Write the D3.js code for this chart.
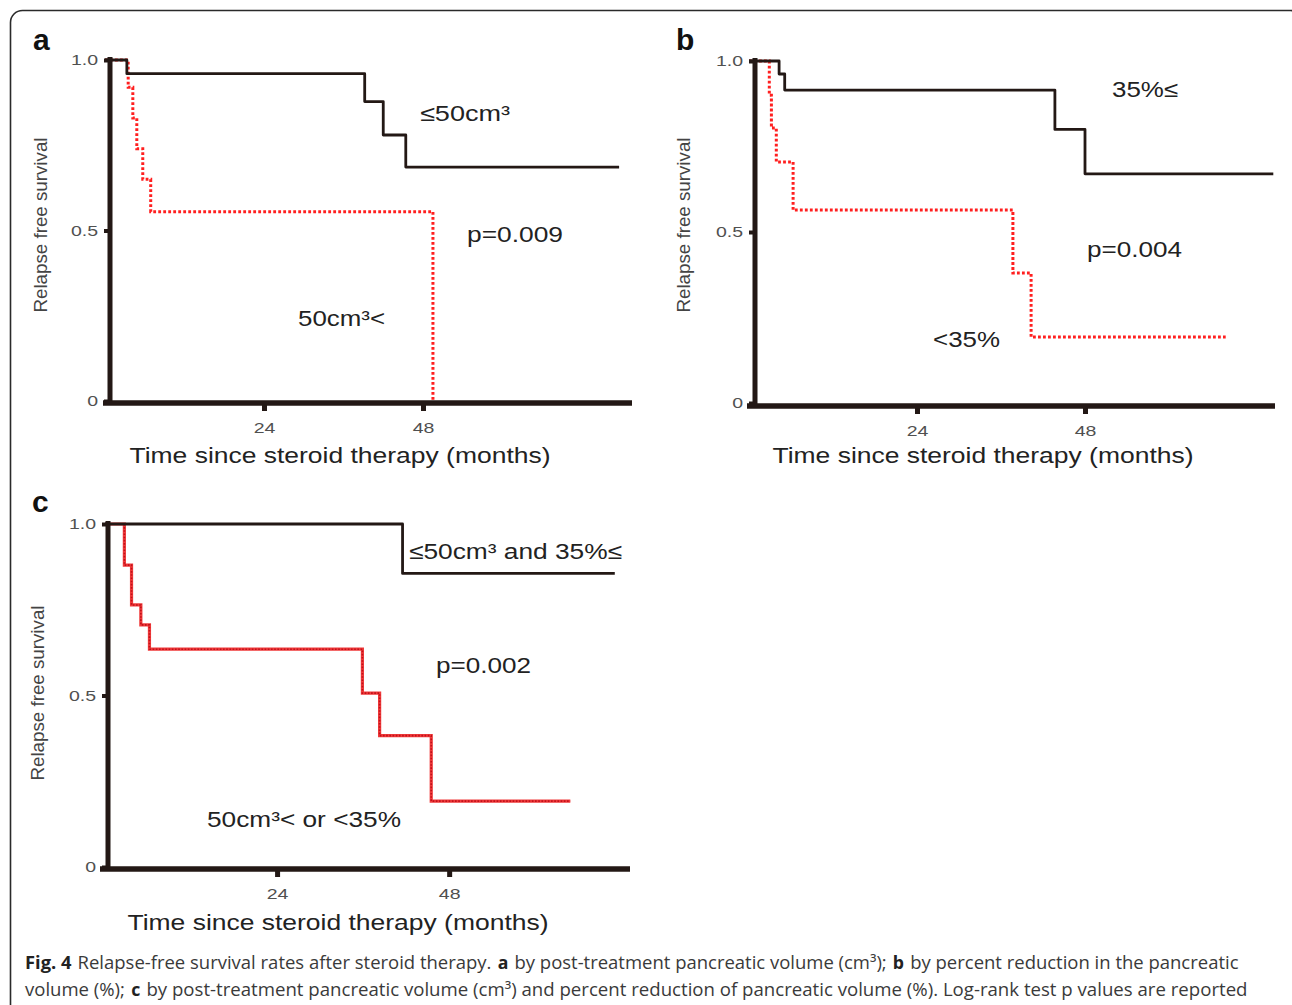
<!DOCTYPE html>
<html><head><meta charset="utf-8">
<script src="https://cdn.jsdelivr.net/npm/d3@7"></script>
<style>body{margin:0;background:#fff;} svg{display:block;}</style>
</head><body><svg id="chart" width="1292" height="1005"></svg>
<script>
// ---------- data ----------
const yTickValues = [0, 0.5, 1];
const yTickLabels = ["0", "0.5", "1.0"];
const xTickValues = [24, 48];
const xTickLabels = ["24", "48"];
const xAxisTitle = "Time since steroid therapy (months)";
const yAxisTitle = "Relapse free survival";
const panelLetters = ["a", "b", "c"];

// panel a: post-treatment pancreatic volume
const aLowTime = [0, 3.3, 39.2, 42.0, 45.4, 77.6];
const aLowSurv = [1, 0.96, 0.878, 0.78, 0.686, 0.686];
const aHighTime = [0, 3.5, 4.2, 4.8, 5.7, 6.9, 49.5];
const aHighSurv = [1, 0.92, 0.83, 0.74, 0.65, 0.555, 0];
const aLabels = ["≤50cm³", "p=0.009", "50cm³<"];

// panel b: percent reduction
const bHighTime = [0, 4.3, 5.1, 43.7, 48.0, 74.9];
const bHighSurv = [1, 0.962, 0.915, 0.80, 0.67, 0.67];
const bLowTime = [0, 2.9, 3.2, 3.9, 6.3, 37.7, 40.3, 68.1];
const bLowSurv = [1, 0.9, 0.804, 0.705, 0.564, 0.38, 0.193, 0.193];
const bLabels = ["35%≤", "p=0.004", "<35%"];

// panel c: combined
const cGoodTime = [0, 41.5, 71.1];
const cGoodSurv = [1, 0.856, 0.856];
const cPoorTime = [0, 2.7, 3.7, 5.0, 6.2, 35.9, 38.3, 45.5, 64.9];
const cPoorSurv = [1, 0.88, 0.764, 0.706, 0.635, 0.507, 0.383, 0.192, 0.192];
const cLabels = ["≤50cm³ and 35%≤", "p=0.002", "50cm³< or <35%"];

const captionLine1 = [
  ["Fig. 4", true], ["Relapse-free survival rates after steroid therapy.", false], ["a", true],
  ["by post-treatment pancreatic volume (cm³);", false], ["b", true],
  ["by percent reduction in the pancreatic", false]
];
const captionLine2 = [
  ["volume (%);", false], ["c", true],
  ["by post-treatment pancreatic volume (cm³) and percent reduction of pancreatic volume (%). Log-rank test p values are reported", false]
];

// ---------- drawing ----------
const svg = d3.select("#chart");
const INK = "#231815";
const RED = "#ff1f1f";
const FONT = "'Liberation Sans', Arial, Helvetica, sans-serif";

// frame
svg.append("rect").attr("x", 10.5).attr("y", 10.5).attr("width", 1292).attr("height", 1100)
  .attr("rx", 12).attr("fill", "none").attr("stroke", "#2a2a2a").attr("stroke-width", 1.6);

const zip = (t, s) => t.map((v, i) => ({t: v, s: s[i]}));

const panels = [
  { letter: panelLetters[0], lx: 33, ly: 50,
    xr: [105, 635], yr: [401, 60], yAxisX: 110, yAxisTop: 57, xAxisY: 403, xAxisL: 103, xAxisR: 632,
    black: zip(aLowTime, aLowSurv), red: zip(aHighTime, aHighSurv), redStyle: "dot",
    ylab: [41, 225], xlab: [340, 463],
    labels: aLabels, lpos: [[420, 121, 90], [467, 242, 96], [298, 326, 87]] },
  { letter: panelLetters[1], lx: 676, ly: 50,
    xr: [749, 1309], yr: [403, 61], yAxisX: 755, yAxisTop: 58, xAxisY: 406, xAxisL: 747, xAxisR: 1275,
    black: zip(bHighTime, bHighSurv), red: zip(bLowTime, bLowSurv), redStyle: "dot",
    ylab: [684, 225], xlab: [983, 463],
    labels: bLabels, lpos: [[1112, 97, 66], [1087, 257, 95], [933, 347, 67]] },
  { letter: panelLetters[2], lx: 32, ly: 512,
    xr: [105, 678.6], yr: [867, 524], yAxisX: 108, yAxisTop: 521, xAxisY: 869, xAxisL: 100, xAxisR: 630,
    black: zip(cGoodTime, cGoodSurv), red: zip(cPoorTime, cPoorSurv), redStyle: "dense",
    ylab: [38, 693], xlab: [338, 930],
    labels: cLabels, lpos: [[409, 559, 213], [436, 673, 95], [207, 827, 194]] }
];

panels.forEach(p => {
  const g = svg.append("g");
  const x = d3.scaleLinear().domain([0, 80]).range(p.xr);
  const y = d3.scaleLinear().domain([0, 1]).range(p.yr);
  const line = d3.line().x(d => x(d.t)).y(d => y(d.s)).curve(d3.curveStepAfter);

  // panel letter
  g.append("text").attr("x", p.lx).attr("y", p.ly).text(p.letter)
    .attr("font-family", FONT).attr("font-weight", "bold").attr("font-size", 30).attr("fill", "#111");

  // curves
  if (p.redStyle === "dot") {
    g.append("path").attr("d", line(p.red)).attr("fill", "none").attr("stroke", RED)
      .attr("stroke-width", 3).attr("stroke-dasharray", "2.8,2.2");
  } else {
    g.append("path").attr("d", line(p.red)).attr("fill", "none").attr("stroke", "#f03a3a")
      .attr("stroke-width", 3.2);
    g.append("path").attr("d", line(p.red)).attr("fill", "none").attr("stroke", "#c0101a")
      .attr("stroke-width", 1.6).attr("stroke-dasharray", "1.6,1.6");
  }
  g.append("path").attr("d", line(p.black)).attr("fill", "none").attr("stroke", INK)
    .attr("stroke-width", 2.8).attr("stroke-linejoin", "round");

  // axes via d3
  const xa = g.append("g").attr("transform", `translate(0,${p.xAxisY})`)
    .call(d3.axisBottom(x).tickValues(xTickValues).tickSize(8).tickPadding(11)
      .tickFormat((d, i) => xTickLabels[i]));
  const ya = g.append("g").attr("transform", `translate(${p.yAxisX},0)`)
    .call(d3.axisLeft(y).tickValues(yTickValues).tickSize(6).tickPadding(6)
      .tickFormat((d, i) => yTickLabels[i]));
  [xa, ya].forEach(a => {
    a.select(".domain").remove();
    a.selectAll(".tick line").attr("stroke", INK).attr("stroke-width", 5);
    a.selectAll(".tick text").attr("font-family", FONT).attr("font-size", 15).attr("fill", "#505050")
      .each(function() {
        const w = this.getComputedTextLength();
        d3.select(this).attr("textLength", w * 1.3).attr("lengthAdjust", "spacingAndGlyphs");
      });
  });
  ya.selectAll(".tick line").attr("stroke-width", 4);

  // thick axis lines
  g.append("line").attr("x1", p.yAxisX).attr("x2", p.yAxisX).attr("y1", p.yAxisTop).attr("y2", p.xAxisY + 2)
    .attr("stroke", INK).attr("stroke-width", 5);
  g.append("line").attr("x1", p.xAxisL).attr("x2", p.xAxisR).attr("y1", p.xAxisY).attr("y2", p.xAxisY)
    .attr("stroke", INK).attr("stroke-width", 5.5);

  // axis titles
  g.append("text").attr("x", p.xlab[0]).attr("y", p.xlab[1]).attr("text-anchor", "middle")
    .attr("font-family", FONT).attr("font-size", 22).attr("fill", "#222")
    .attr("textLength", 421).attr("lengthAdjust", "spacingAndGlyphs").text(xAxisTitle);
  g.append("text").attr("transform", `translate(${p.ylab[0] + 6},${p.ylab[1]}) rotate(-90)`)
    .attr("text-anchor", "middle").attr("font-family", FONT).attr("font-size", 18).attr("fill", "#444")
    .attr("textLength", 175).attr("lengthAdjust", "spacingAndGlyphs").text(yAxisTitle);

  // annotations
  p.labels.forEach((t, i) => {
    const [lx, ly, w] = p.lpos[i];
    g.append("text").attr("x", lx).attr("y", ly).attr("font-family", FONT).attr("font-size", 22)
      .attr("fill", "#222").attr("textLength", w).attr("lengthAdjust", "spacingAndGlyphs").text(t);
  });
});

// caption: each run is its own text element, laid out in sequence and fitted to the line width
const CAP = "'Open Sans', 'Noto Sans', sans-serif";
const SPACE = 5.5;
[[captionLine1, 969, 1214], [captionLine2, 996, 1223]].forEach(([parts, yy, target]) => {
  const nodes = parts.map(([s, bold]) => {
    const t = svg.append("text").attr("y", yy).attr("font-family", CAP).attr("font-size", 18)
      .attr("fill", bold ? "#222" : "#3a3a3a").text(s);
    if (bold) t.attr("font-weight", "bold");
    return t;
  });
  const widths = nodes.map(n => n.node().getComputedTextLength());
  const total = d3.sum(widths) + SPACE * (parts.length - 1);
  const k = target / total;
  let cx = 25;
  nodes.forEach((n, i) => {
    const w = widths[i] * k;
    n.attr("x", cx).attr("textLength", w - 0.5).attr("lengthAdjust", "spacingAndGlyphs");
    cx += w + SPACE * k;
  });
});
</script>
</body></html>
